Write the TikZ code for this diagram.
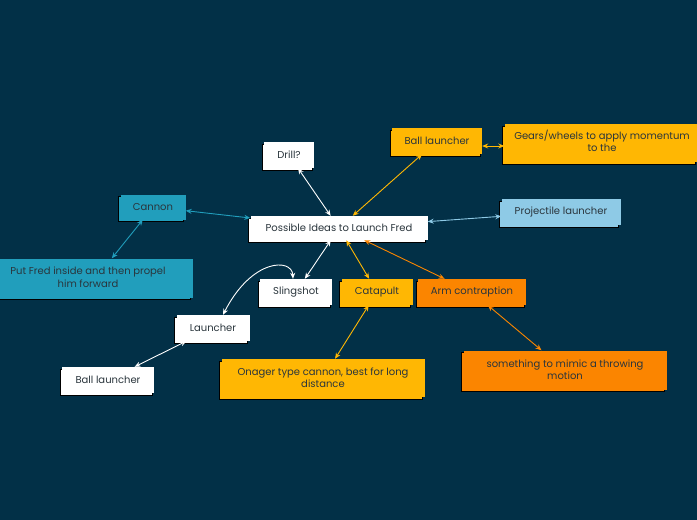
\documentclass[tikz,border=0pt]{standalone}
\usepackage{fontspec}
\setmainfont{Poppins}
\usetikzlibrary{arrows.meta,shadows,calc}
\definecolor{bg}{HTML}{023047}
\definecolor{teal}{HTML}{219EBC}
\definecolor{lblue}{HTML}{8ECAE6}
\definecolor{yel}{HTML}{FFB703}
\definecolor{org}{HTML}{FB8500}
\definecolor{txt}{HTML}{2A353C}
\tikzset{
  box/.style={fill=#1, draw=none, text=txt, font=\fontsize{10}{12}\selectfont, inner sep=0pt, align=center,
    copy shadow={shadow xshift=-2pt, shadow yshift=-2pt, opacity=1}},
  lbl/.style={text=txt, font=\fontsize{10}{12.5}\selectfont, align=center, inner sep=0pt},
  conn/.style={draw=#1, line width=0.9pt, {Stealth[length=6pt,width=5pt]}-{Stealth[length=6pt,width=5pt]}},
}
\begin{document}
\begin{tikzpicture}[x=1pt,y=-1pt]
\fill[bg] (0,0) rectangle (697,520);
\useasboundingbox (0,0) rectangle (697,520);

\node[box=white, minimum width=177, minimum height=24] (central) at (339,228) {Possible Ideas to Launch Fred};
\node[box=white, minimum width=50, minimum height=26] (drill) at (289,155) {Drill?};
\node[box=yel, minimum width=90, minimum height=26] (ballt) at (437,141) {Ball launcher};
\node[box=yel, minimum width=193, minimum height=38] (gears) at (601,143) {};
\node[lbl] at (602,141) {Gears/wheels to apply momentum\\to the};
\node[box=lblue, minimum width=119, minimum height=26] (proj) at (561,212) {Projectile launcher};
\node[box=teal, minimum width=65, minimum height=25] (cannon) at (153,207) {Cannon};
\node[box=teal, minimum width=193, minimum height=39] (fred) at (96,278) {};
\node[lbl] at (88,277) {Put Fred inside and then propel\\him forward};
\node[box=white, minimum width=72, minimum height=26] (sling) at (296,292) {Slingshot};
\node[box=yel, minimum width=71, minimum height=26] (cata) at (377,292) {Catapult};
\node[box=org, minimum width=108, minimum height=26] (arm) at (472,292) {Arm contraption};
\node[box=white, minimum width=73, minimum height=26] (launch) at (213,328) {Launcher};
\node[box=white, minimum width=92, minimum height=26] (ballb) at (108,380) {Ball launcher};
\node[box=yel, minimum width=203, minimum height=38] (onager) at (323,378) {Onager type cannon, best for long\\distance};
\node[box=org, minimum width=203, minimum height=39] (some) at (565,370) {something to mimic a throwing\\motion};

\draw[conn=white] (central) -- (drill);
\draw[conn=yel] (central) -- (ballt);
\draw[conn=yel] ($(ballt.east)+(0,5)$) -- ($(ballt.east -| gears.west)+(0,5)$);
\draw[conn=lblue] (central) -- (proj);
\draw[conn=teal] (central) -- (cannon);
\draw[conn=teal] (cannon) -- (fred);
\draw[conn=white] (central) -- (sling);
\draw[conn=yel] (central) -- (cata);
\draw[conn=org] (central) -- (arm);
\draw[conn=yel] (cata) -- (onager);
\draw[conn=org] (arm) -- (some);
\draw[conn=white] (launch) -- (ballb);
\draw[conn=white] ($(sling.north)+(-3,0)$) .. controls (292,258) and (252,258) .. ($(launch.north)+(10,0)$);
\end{tikzpicture}
\end{document}
